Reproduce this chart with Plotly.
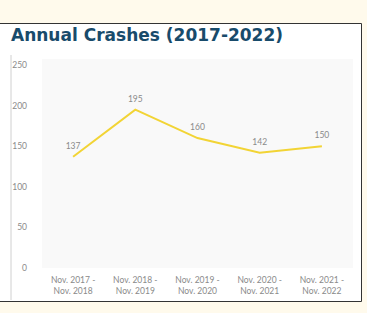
import plotly.graph_objects as go

categories = ["Nov. 2017 -<br>Nov. 2018", "Nov. 2018 -<br>Nov. 2019", "Nov. 2019 -<br>Nov. 2020",
              "Nov. 2020 -<br>Nov. 2021", "Nov. 2021 -<br>Nov. 2022"]
crashes = [137, 195, 160, 142, 150]
y_ticks = [0, 50, 100, 150, 200, 250]

W, H = 367, 313
L, R, T, B = 42, 14, 65, 45
PW, PH = W - L - R, H - T - B

fig = go.Figure()
fig.add_trace(go.Scatter(
    x=categories, y=crashes, mode="lines+markers+text",
    line=dict(color="#f2d435", width=2),
    marker=dict(size=8, color="rgba(0,0,0,0)"),
    text=[str(v) for v in crashes], textposition="top center",
    textfont=dict(family="Lato", size=8.5, color="#8a8a8a"),
    cliponaxis=False, hoverinfo="skip", showlegend=False,
))

def px(x):
    return (x - L) / PW

def py(y):
    return (H - B - y) / PH

shapes = [
    dict(type="rect", xref="paper", yref="paper", x0=px(-2), x1=px(361.5), y0=py(301.5), y1=py(23.5),
         line=dict(color="#333333", width=1), fillcolor="white", layer="below"),
    dict(type="line", xref="paper", yref="paper", x0=px(11), x1=px(11), y0=py(55), y1=py(300),
         line=dict(color="#d0d0d0", width=1), layer="below"),
    dict(type="rect", xref="paper", yref="paper", x0=0, x1=1, y0=0, y1=1.03,
         line=dict(width=0), fillcolor="#f9f9f9", layer="below"),
]

fig.update_layout(
    width=W, height=H,
    paper_bgcolor="#fffaec",
    plot_bgcolor="rgba(0,0,0,0)",
    margin=dict(l=L, r=R, t=T, b=B),
    shapes=shapes,
    annotations=[dict(text="<b>Annual Crashes (2017-2022)</b>", xref="paper", yref="paper",
                      x=px(9), y=py(35), xanchor="left", yanchor="middle", showarrow=False,
                      font=dict(family="DejaVu Sans", size=17, color="#184b6b"))],
    xaxis=dict(range=[-0.5, 4.5], showgrid=False, zeroline=False, showline=False, ticks="",
               ticklabelstandoff=5,
               tickfont=dict(family="Lato", size=8.5, color="#8a8a8a")),
    yaxis=dict(range=[0, 250], tickvals=y_ticks, showgrid=False, zeroline=False, showline=False,
               ticks="", ticklabelstandoff=14,
               tickfont=dict(family="Lato", size=8.5, color="#8a8a8a")),
)

fig.write_html("out.html", config={"displayModeBar": False, "staticPlot": True})
with open("out.html", "r", encoding="utf-8") as f:
    html = f.read()
html = html.replace("<head>", "<head><style>html,body{margin:0;padding:0;overflow:hidden;}</style>", 1)
with open("out.html", "w", encoding="utf-8") as f:
    f.write(html)
